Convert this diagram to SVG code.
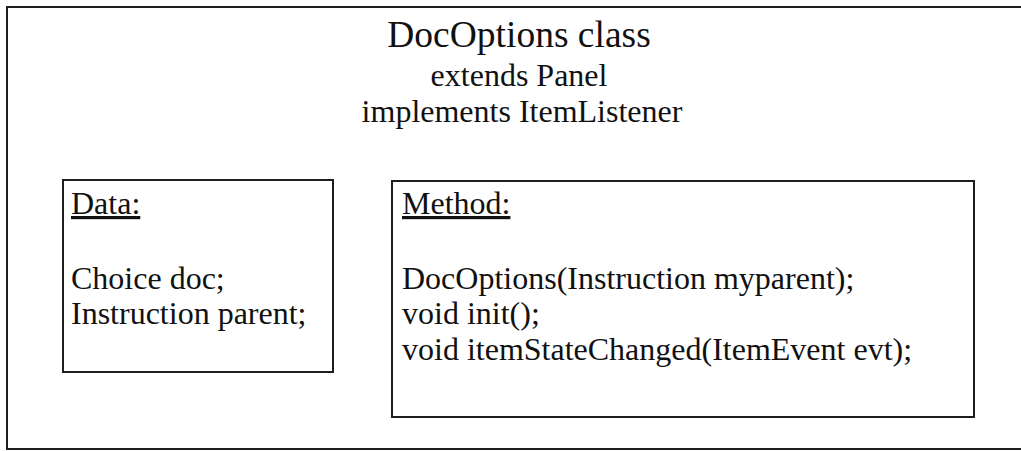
<svg xmlns="http://www.w3.org/2000/svg" width="1021" height="451" viewBox="0 0 1021 451">
  <style>
    .frame { fill: #ffffff; stroke: #1e1e1e; stroke-width: 2; }
    .box { fill: #ffffff; stroke: #1e1e1e; stroke-width: 2; }
    text { font-family: "Liberation Serif", "Times New Roman", serif; fill: #111111; }
    .title { font-size: 37.5px; text-anchor: middle; }
    .sub { font-size: 32px; text-anchor: middle; }
    .body { font-size: 32px; }
    .head { font-size: 32px; text-decoration: underline; }
  </style>
  <rect width="1021" height="451" fill="#ffffff"/>

  <!-- class outline -->
  <g id="class-docoptions">
    <rect class="frame" x="7" y="7" width="1030" height="442"/>
    <text class="title" x="519" y="47">DocOptions class</text>
    <text class="sub" x="519" y="86">extends Panel</text>
    <text class="sub" x="522" y="122">implements ItemListener</text>
  </g>

  <!-- data members -->
  <g id="data">
    <rect class="box" x="63" y="180" width="270" height="192"/>
    <text class="head" x="71" y="214">Data:</text>
    <text class="body" x="71" y="289">Choice doc;</text>
    <text class="body" x="71" y="324">Instruction parent;</text>
  </g>

  <!-- methods -->
  <g id="method">
    <rect class="box" x="392" y="181" width="582" height="236"/>
    <text class="head" x="402" y="214">Method:</text>
    <text class="body" x="402" y="289">DocOptions(Instruction myparent);</text>
    <text class="body" x="402" y="324">void init();</text>
    <text class="body" x="402" y="360">void itemStateChanged(ItemEvent evt);</text>
  </g>

  <g id="connectors"></g>
</svg>
